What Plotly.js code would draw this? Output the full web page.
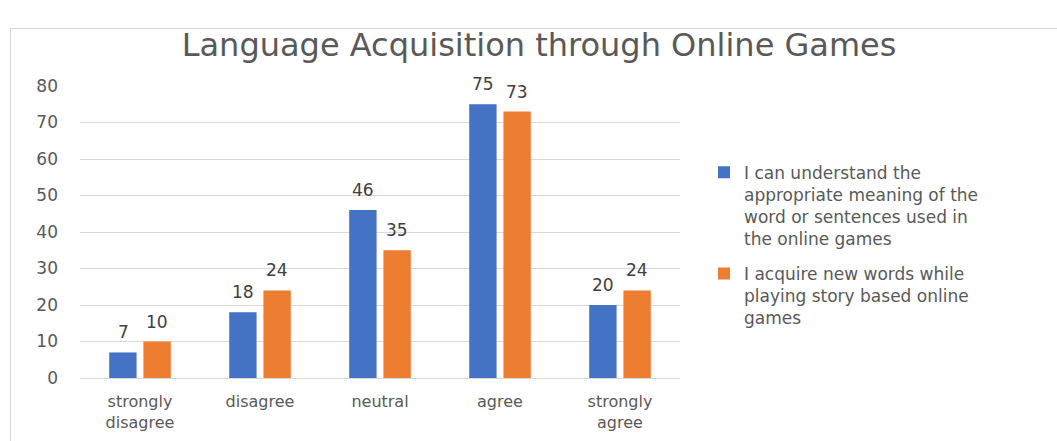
<!DOCTYPE html>
<html><head><meta charset="utf-8">
<script src="https://cdn.plot.ly/plotly-3.0.1.min.js"></script>
<style>
html,body{margin:0;padding:0;background:#fff;}
#chart{width:1057px;height:441px;position:relative;}
#frame{position:absolute;left:10px;top:28px;width:1060px;height:420px;border:1px solid #d9d9d9;pointer-events:none;}
</style></head>
<body>
<div id="chart"></div>
<div id="frame"></div>
<script>
const categories = ["strongly<br>disagree", "disagree", "neutral", "agree", "strongly<br>agree"];
const seriesNames = [
  "I can understand the<br>appropriate meaning of the<br>word or sentences used in<br>the online games",
  "I acquire new words while<br>playing story based online<br>games"
];
const understandValues = [7, 18, 46, 75, 20];
const acquireValues = [10, 24, 35, 73, 24];
const yTicks = [0, 10, 20, 30, 40, 50, 60, 70, 80];

const FONT = "DejaVu Sans, Verdana, sans-serif";
const labelFont = {family: FONT, size: 17, color: "#404040"};
const traces = [
  {type: "bar", x: categories, y: understandValues, name: seriesNames[0],
   legendgroup: "g1", marker: {color: "#4472C4"}},
  {type: "bar", x: categories, y: acquireValues, name: seriesNames[1],
   legendgroup: "g2", marker: {color: "#ED7D31"}}
];
const annotations = [];
[understandValues, acquireValues].forEach((vals, si) => {
  vals.forEach((v, i) => {
    annotations.push({x: categories[i], y: v, xref: "x", yref: "y", text: String(v),
      showarrow: false, yanchor: "bottom", xshift: si === 0 ? -17 : 17, yshift: 8,
      font: labelFont});
  });
});
const layout = {
  width: 1057, height: 441,
  margin: {l: 80, r: 377, t: 86, b: 63},
  paper_bgcolor: "#fff", plot_bgcolor: "#fff",
  title: {text: "Language Acquisition through Online Games",
          font: {family: FONT, size: 32, color: "#595959"},
          x: 0.51, xanchor: "center", y: 0.898, yanchor: "middle"},
  barmode: "group", bargap: 0.43, bargroupgap: 0.2,
  xaxis: {tickfont: {family: FONT, size: 16, color: "#595959"},
          showline: true, linecolor: "#d9d9d9", ticks: "", fixedrange: true,
          ticklabelstandoff: 9},
  yaxis: {range: [0, 80], tickvals: yTicks, ticktext: yTicks.map(String),
          tickfont: {family: FONT, size: 17, color: "#595959"},
          gridcolor: "#d9d9d9", zeroline: false, ticks: "", ticklen: 0,
          automargin: false, ticklabelstandoff: 21},
  annotations: annotations,
  showlegend: true,
  legend: {x: 1.04, xanchor: "left", y: 0.765, yanchor: "top", valign: "top",
           font: {family: FONT, size: 17, color: "#595959"},
           tracegroupgap: 10, itemwidth: 30, traceorder: "grouped"},
  font: {family: FONT}
};
Plotly.newPlot("chart", traces, layout, {displayModeBar: false, staticPlot: true});
</script>
</body></html>
